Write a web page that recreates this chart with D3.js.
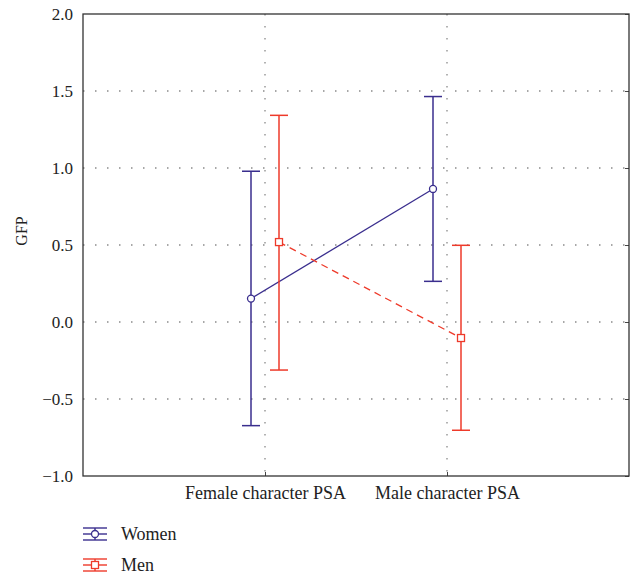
<!DOCTYPE html>
<html><head><meta charset="utf-8">
<script src="https://cdn.jsdelivr.net/npm/d3@7"></script>
<style>body{margin:0;background:#fff;} svg{display:block;} text{font-family:"Liberation Serif","Times New Roman",serif;}</style>
</head><body><svg id="c" width="634" height="578"></svg>
<script>
const categories = ["Female character PSA", "Male character PSA"];
const seriesNames = ["Women", "Men"];
const womenMean = [0.152, 0.864];
const womenUpper = [0.979, 1.464];
const womenLower = [-0.673, 0.264];
const menMean = [0.519, -0.104];
const menUpper = [1.342, 0.498];
const menLower = [-0.312, -0.703];
const yTicks = [-1.0, -0.5, 0.0, 0.5, 1.0, 1.5, 2.0];
const colors = {Women: "#3a2e8e", Men: "#ee3a2a"};

const series = [
  {name: "Women", mean: womenMean, up: womenUpper, lo: womenLower, off: -14, dash: null, marker: "circle"},
  {name: "Men", mean: menMean, up: menUpper, lo: menLower, off: 14, dash: "7,5", marker: "square"}
];

const svg = d3.select("#c");
const L = 83, R = 629, T = 14, B = 476;
const x = d3.scalePoint().domain(categories).range([L, R]).padding(1);
const y = d3.scaleLinear().domain([-1, 2]).range([B, T]);

// grid
const grid = svg.append("g").attr("stroke", "#8a8a8a").attr("stroke-width", 1.3).attr("stroke-dasharray", "1.5,10.5");
grid.selectAll("line.h").data(yTicks.filter(d => d > -1 && d < 2)).join("line")
  .attr("x1", L).attr("x2", R).attr("y1", d => y(d)).attr("y2", d => y(d));
grid.selectAll("line.v").data(categories).join("line")
  .attr("x1", d => x(d)).attr("x2", d => x(d)).attr("y1", T).attr("y2", B);

// axes
const fmt = d => (d < 0 ? "\u2212" : "") + Math.abs(d).toFixed(1);
const ya = svg.append("g").attr("transform", `translate(${L},0)`)
  .call(d3.axisLeft(y).tickValues(yTicks).tickFormat(fmt).tickSize(0).tickPadding(10));
ya.select(".domain").remove();
ya.selectAll("text").attr("font-size", 17).attr("fill", "#222").attr("font-family", "Liberation Serif");
const yr = svg.append("g").attr("transform", `translate(${R},0)`)
  .call(d3.axisLeft(y).tickValues(yTicks).tickFormat("").tickSize(4));
yr.select(".domain").remove();
yr.selectAll("line").attr("stroke", "#444");
const xa = svg.append("g").attr("transform", `translate(0,${B})`)
  .call(d3.axisTop(x).tickSize(4).tickFormat(""));
xa.select(".domain").remove();
xa.selectAll("line").attr("stroke", "#444");
const xl = svg.append("g").attr("transform", `translate(0,${B})`)
  .call(d3.axisBottom(x).tickSize(0).tickPadding(10));
xl.select(".domain").remove();
xl.selectAll("text").attr("font-size", 18).attr("fill", "#222").attr("font-family", "Liberation Serif");

// frame
svg.append("rect").attr("x", L).attr("y", T).attr("width", R - L).attr("height", B - T)
  .attr("fill", "none").attr("stroke", "#333").attr("stroke-width", 1.3);

// y label
svg.append("text").attr("transform", `translate(27,231) rotate(-90)`)
  .attr("text-anchor", "middle").attr("font-size", 16).attr("fill", "#222").text("GFP");

// series
const capW = 9;
series.forEach(s => {
  const c = colors[s.name];
  const g = svg.append("g");
  const pts = categories.map((cat, i) => ({cx: x(cat) + s.off, m: s.mean[i], u: s.up[i], l: s.lo[i]}));
  g.append("path").datum(pts)
    .attr("d", d3.line().x(d => d.cx).y(d => y(d.m)))
    .attr("fill", "none").attr("stroke", c).attr("stroke-width", 1.3)
    .attr("stroke-dasharray", s.dash);
  pts.forEach(p => {
    g.append("line").attr("x1", p.cx).attr("x2", p.cx).attr("y1", y(p.u)).attr("y2", y(p.l)).attr("stroke", c).attr("stroke-width", 1.5);
    [p.u, p.l].forEach(v => g.append("line").attr("x1", p.cx - capW).attr("x2", p.cx + capW).attr("y1", y(v)).attr("y2", y(v)).attr("stroke", c).attr("stroke-width", 1.5));
    if (s.marker === "circle") {
      g.append("circle").attr("cx", p.cx).attr("cy", y(p.m)).attr("r", 3.5).attr("fill", "#fff").attr("stroke", c).attr("stroke-width", 1.3);
    } else {
      g.append("rect").attr("x", p.cx - 3.5).attr("y", y(p.m) - 3.5).attr("width", 7).attr("height", 7).attr("fill", "#fff").attr("stroke", c).attr("stroke-width", 1.3);
    }
  });
});

// legend
const lg = svg.append("g");
series.forEach((s, i) => {
  const c = colors[s.name];
  const cy = 534 + i * 31, x0 = 83, x1 = 107, cx = 95;
  const g = lg.append("g");
  [-6, 0, 6].forEach(dy => g.append("line").attr("x1", x0).attr("x2", x1).attr("y1", cy + dy).attr("y2", cy + dy).attr("stroke", c).attr("stroke-width", 1.4));
  g.append("line").attr("x1", cx).attr("x2", cx).attr("y1", cy - 6).attr("y2", cy + 6).attr("stroke", c).attr("stroke-width", 1.4);
  if (s.marker === "circle") g.append("circle").attr("cx", cx).attr("cy", cy).attr("r", 3.5).attr("fill", "#fff").attr("stroke", c).attr("stroke-width", 1.3);
  else g.append("rect").attr("x", cx - 3.5).attr("y", cy - 3.5).attr("width", 7).attr("height", 7).attr("fill", "#fff").attr("stroke", c).attr("stroke-width", 1.3);
  g.append("text").attr("x", 121).attr("y", cy).attr("dy", "0.35em").attr("font-size", 18).attr("fill", "#222").text(s.name);
});
</script></body></html>
